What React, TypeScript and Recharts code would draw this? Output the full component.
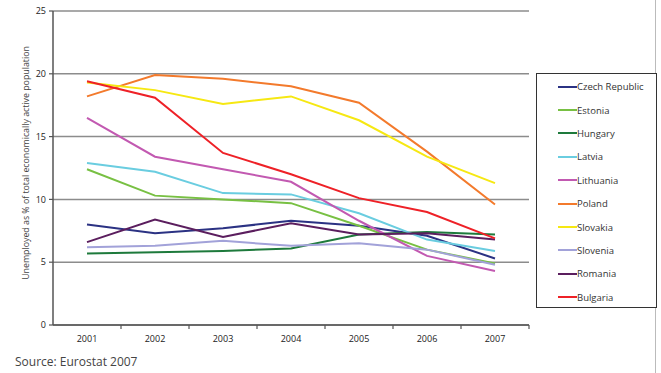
/** Unemployment in the new EU member states, 2001–2007 (Eurostat). */
import { CartesianGrid, Line, LineChart, XAxis, YAxis } from "recharts";

const years = ["2001", "2002", "2003", "2004", "2005", "2006", "2007"];

const czechRepublic = [8.0, 7.3, 7.7, 8.3, 7.9, 7.1, 5.3];
const estonia = [12.4, 10.3, 10.0, 9.7, 7.9, 6.0, 4.9];
const hungary = [5.7, 5.8, 5.9, 6.1, 7.2, 7.4, 7.2];
const latvia = [12.9, 12.2, 10.5, 10.4, 8.9, 6.8, 5.9];
const lithuania = [16.5, 13.4, 12.4, 11.4, 8.3, 5.5, 4.3];
const poland = [18.2, 19.9, 19.6, 19.0, 17.7, 13.8, 9.6];
const slovakia = [19.3, 18.7, 17.6, 18.2, 16.3, 13.4, 11.3];
const slovenia = [6.2, 6.3, 6.7, 6.3, 6.5, 6.0, 4.8];
const romania = [6.6, 8.4, 7.0, 8.1, 7.2, 7.3, 6.8];
const bulgaria = [19.4, 18.1, 13.7, 12.0, 10.1, 9.0, 6.9];

const yTicks = [0, 5, 10, 15, 20, 25];

const series = [
  { key: "Czech Republic", values: czechRepublic, color: "#2B3283" },
  { key: "Estonia", values: estonia, color: "#78C043" },
  { key: "Hungary", values: hungary, color: "#1E7A3C" },
  { key: "Latvia", values: latvia, color: "#6ACDE0" },
  { key: "Lithuania", values: lithuania, color: "#C259B1" },
  { key: "Poland", values: poland, color: "#F37A2C" },
  { key: "Slovakia", values: slovakia, color: "#F6E812" },
  { key: "Slovenia", values: slovenia, color: "#A2A2D9" },
  { key: "Romania", values: romania, color: "#5B1E5E" },
  { key: "Bulgaria", values: bulgaria, color: "#EE2127" },
];

const data = years.map((year, i) => {
  const row: Record<string, string | number> = { year };
  series.forEach((s) => (row[s.key] = s.values[i]));
  return row;
});

const FONT = "'Open Sans', 'DejaVu Sans', sans-serif";
const GRID = "#8c8c8c";
const AXIS = "#555";
const HALF_STEP = 34;

// year label sits mid-band, the tick mark on the band's right edge
function YearTick(props: any) {
  const { x, y, payload } = props;
  return (
    <g>
      <line x1={x + HALF_STEP} y1={y} x2={x + HALF_STEP} y2={y + 4} stroke={AXIS} strokeWidth={1.2} />
      <text x={x} y={y + 17} textAnchor="middle" fontSize={9} fill="#222" fontFamily={FONT}>
        {payload.value}
      </text>
    </g>
  );
}

function LegendBox() {
  return (
    <div
      style={{
        position: "absolute",
        left: 536,
        top: 73,
        border: "1.5px solid #333",
        width: 121,
        height: 235,
        boxSizing: "border-box",
        padding: "1px 0 0 21px",
        background: "#fff",
      }}
    >
      {series.map((s) => (
        <div key={s.key} style={{ display: "flex", alignItems: "center", height: 23.4 }}>
          <span style={{ display: "inline-block", width: 19, height: 2, background: s.color }} />
          <span style={{ fontSize: 9.5, color: "#333", fontFamily: FONT }}>{s.key}</span>
        </div>
      ))}
    </div>
  );
}

export default function App() {
  return (
    <div style={{ position: "absolute", left: 0, top: 0, width: 661, height: 373, background: "#fff" }}>
      <div style={{ position: "absolute", left: 655, top: 0, width: 1, height: 373, background: "#bbb" }} />
      <LineChart width={661} height={373} data={data} margin={{ top: 11, right: 132, bottom: 28, left: 0 }}>
        <CartesianGrid vertical={false} stroke={GRID} strokeWidth={1.5} />
        <XAxis
          dataKey="year"
          padding={{ left: HALF_STEP, right: HALF_STEP }}
          axisLine={{ stroke: AXIS, strokeWidth: 1.5 }}
          tickLine={false}
          tickSize={0}
          tickMargin={0}
          tick={<YearTick />}
          height={20}
          interval={0}
        />
        <YAxis
          domain={[0, 25]}
          ticks={yTicks}
          width={53}
          axisLine={{ stroke: AXIS, strokeWidth: 1.5 }}
          tickLine={{ stroke: AXIS, strokeWidth: 1.2 }}
          tickSize={4}
          tickMargin={3}
          tick={{ fontSize: 9, fill: "#222", fontFamily: FONT }}
          label={{
            value: "Unemployed as % of total economically active population",
            angle: -90,
            position: "center",
            dx: -1,
            dy: -5,
            style: { fontSize: 8.8, fill: "#444", fontFamily: FONT },
          }}
        />
        <YAxis
          yAxisId="frame"
          orientation="right"
          width={0}
          tick={false}
          tickLine={false}
          axisLine={{ stroke: GRID, strokeWidth: 1.5 }}
        />
        {series.map((s) => (
          <Line
            key={s.key}
            dataKey={s.key}
            stroke={s.color}
            strokeWidth={2}
            dot={false}
            isAnimationActive={false}
          />
        ))}
      </LineChart>
      <LegendBox />
      <div
        style={{
          position: "absolute",
          left: 15,
          top: 353,
          fontSize: 12,
          color: "#444",
          fontFamily: FONT,
        }}
      >
        Source: Eurostat 2007
      </div>
    </div>
  );
}
